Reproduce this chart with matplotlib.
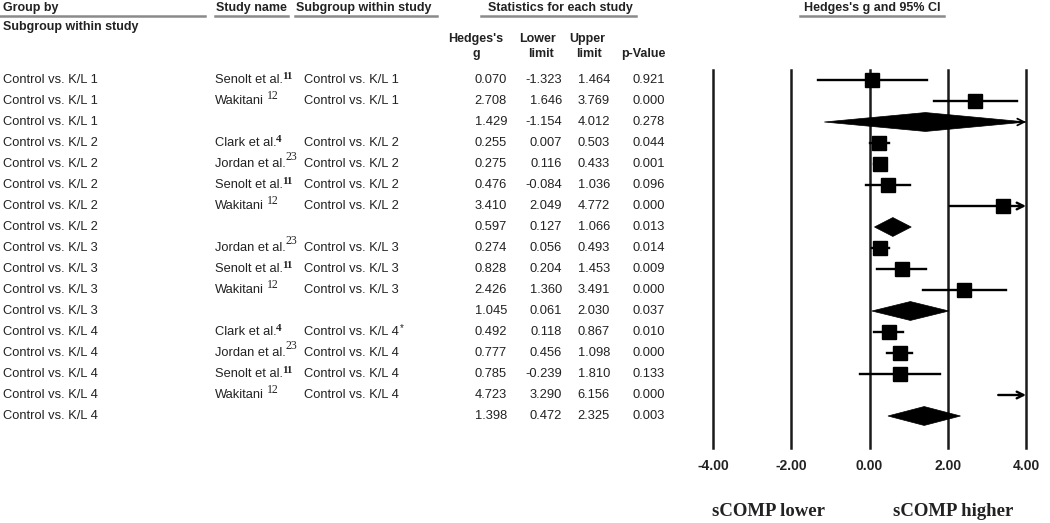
import matplotlib
matplotlib.use("Agg")
import matplotlib.pyplot as plt
import matplotlib.transforms as mtransforms
from matplotlib.patches import Polygon

W, H = 1050, 523

# ---- data ----
groups = (["Control vs. K/L 1"] * 3 + ["Control vs. K/L 2"] * 5 +
          ["Control vs. K/L 3"] * 4 + ["Control vs. K/L 4"] * 5)
studies = ["Senolt et al.", "Wakitani", "",
           "Clark et al.", "Jordan et al.", "Senolt et al.", "Wakitani", "",
           "Jordan et al.", "Senolt et al.", "Wakitani", "",
           "Clark et al.", "Jordan et al.", "Senolt et al.", "Wakitani", ""]
refs = ["11", "12", "", "4", "23", "11", "12", "", "23", "11", "12", "",
        "4", "23", "11", "12", ""]
subgroups = ["Control vs. K/L 1", "Control vs. K/L 1", "",
             "Control vs. K/L 2", "Control vs. K/L 2", "Control vs. K/L 2", "Control vs. K/L 2", "",
             "Control vs. K/L 3", "Control vs. K/L 3", "Control vs. K/L 3", "",
             "Control vs. K/L 4", "Control vs. K/L 4", "Control vs. K/L 4", "Control vs. K/L 4", ""]
sub_notes = ["", "", "", "", "", "", "", "", "", "", "", "", "*", "", "", "", ""]
hedges_g = [0.070, 2.708, 1.429, 0.255, 0.275, 0.476, 3.410, 0.597,
            0.274, 0.828, 2.426, 1.045, 0.492, 0.777, 0.785, 4.723, 1.398]
lower = [-1.323, 1.646, -1.154, 0.007, 0.116, -0.084, 2.049, 0.127,
         0.056, 0.204, 1.360, 0.061, 0.118, 0.456, -0.239, 3.290, 0.472]
upper = [1.464, 3.769, 4.012, 0.503, 0.433, 1.036, 4.772, 1.066,
         0.493, 1.453, 3.491, 2.030, 0.867, 1.098, 1.810, 6.156, 2.325]
p_values = [0.921, 0.000, 0.278, 0.044, 0.001, 0.096, 0.000, 0.013,
            0.014, 0.009, 0.000, 0.037, 0.010, 0.000, 0.133, 0.000, 0.003]
bold_refs = ["11", "4"]
xticks = [-4, -2, 0, 2, 4]

SANS = "Liberation Sans"
SERIF = "Liberation Serif"
TXT = "#222222"
GRAY = "#8a8a8a"

fig = plt.figure(figsize=(W / 100, H / 100), dpi=100)

def fx(x):
    return x / W

def fy(y):
    return 1 - y / H

# forest plot axes: x -4..4 at px 713..1026, rows at px 80 + 21*i
top_px, bot_px = 70, 448
ax = fig.add_axes([fx(713), fy(bot_px), fx(1026) - fx(713), (bot_px - top_px) / H])
ax.set_xlim(-4, 4)
ax.set_ylim((bot_px - 80) / 21, (top_px - 80) / 21)
for s in ax.spines.values():
    s.set_visible(False)
ax.set_yticks([])
ax.set_xticks(xticks)
ax.set_xticklabels([f"{t:.2f}" for t in xticks], fontsize=10, fontweight="bold",
                   family=SANS, color=TXT)
ax.tick_params(axis="x", length=0, pad=8)
for t in xticks:
    ax.axvline(t, color="#1a1a1a", lw=1.8, clip_on=False, zorder=1)

n = len(hedges_g)
for i in range(n):
    g, lo, hi = hedges_g[i], lower[i], upper[i]
    if studies[i] == "":
        h = 0.45
        poly = Polygon([(lo, i), (g, i - h), (hi, i), (g, i + h)], closed=True,
                       facecolor="black", edgecolor="black", lw=0.5, zorder=3)
        ax.add_patch(poly)
        if hi > 4:
            ax.annotate("", xy=(4, i), xytext=(3.7, i),
                        arrowprops=dict(arrowstyle="->", lw=1.3, color="black",
                                        mutation_scale=12, shrinkA=0, shrinkB=0),
                        annotation_clip=False)
        continue
    x0, x1 = max(lo, -4), min(hi, 4)
    if hi > 4:
        ax.annotate("", xy=(4, i), xytext=(x0, i),
                    arrowprops=dict(arrowstyle="->", lw=1.7, color="black",
                                    mutation_scale=12, shrinkA=0, shrinkB=0),
                    annotation_clip=False)
    else:
        ax.plot([x0, x1], [i, i], color="black", lw=1.7, zorder=2)
    if g <= 4:
        ax.plot([g], [i], marker="s", ms=9.8, color="black", zorder=4)

# table text, rows share the forest y scale
tr = mtransforms.blended_transform_factory(fig.transFigure, ax.transData)
fs = 9.3
for i in range(n):
    fig.text(fx(3), i, groups[i], transform=tr, fontsize=fs, family=SANS,
             color=TXT, va="center", ha="left")
    if studies[i]:
        name = fig.text(fx(215), i, studies[i], transform=tr, fontsize=fs,
                        family=SANS, color=TXT, va="center", ha="left")
        bold = refs[i] in bold_refs
        dx = 2.5 if refs[i] == "12" else -0.5
        dy = 1.5 if refs[i] == "23" else 0
        ax.annotate(refs[i], xy=(1, 0.45), xycoords=name,
                    xytext=(dx, dy), textcoords="offset points",
                    fontsize=8 if bold else 8.5, family=SERIF,
                    fontweight="bold" if bold else "normal",
                    color=TXT, va="bottom", ha="left", annotation_clip=False)
    if subgroups[i]:
        sub = fig.text(fx(304), i, subgroups[i], transform=tr, fontsize=fs,
                       family=SANS, color=TXT, va="center", ha="left")
        if sub_notes[i]:
            ax.annotate(sub_notes[i], xy=(1, 0.45), xycoords=sub,
                        xytext=(0.5, 0), textcoords="offset points",
                        fontsize=7, family=SANS, color=TXT,
                        va="bottom", ha="left", annotation_clip=False)
    for xr, v in zip([507, 562, 610, 665],
                     [hedges_g[i], lower[i], upper[i], p_values[i]]):
        fig.text(fx(xr), i, f"{v:.3f}", transform=tr, fontsize=fs,
                 family=SANS, color=TXT, va="center", ha="right")

# header
hfs = 9
def header(x, y, s, ha="left"):
    fig.text(fx(x), fy(y), s, fontsize=hfs, fontweight="bold", family=SANS,
             color=TXT, ha=ha, va="center")

def rule(x0, x1, y=16):
    fig.add_artist(plt.Line2D([fx(x0), fx(x1)], [fy(y), fy(y)],
                              color=GRAY, lw=1.8, transform=fig.transFigure))

header(3, 8, "Group by")
rule(0, 205)
header(3, 27, "Subgroup within study")
header(216, 8, "Study name")
rule(215, 288)
header(296, 8, "Subgroup within study")
rule(295, 437)
header(560, 8, "Statistics for each study", ha="center")
rule(481, 636)
header(872, 8, "Hedges's g and 95% CI", ha="center")
rule(800, 944)

header(476, 39, "Hedges's", ha="center")
header(476, 54, "g", ha="center")
header(538, 39, "Lower", ha="center")
header(541, 54, "limit", ha="center")
header(587, 39, "Upper", ha="center")
header(589, 54, "limit", ha="center")
header(643, 54, "p-Value", ha="center")

fig.text(fx(768), fy(512), "sCOMP lower", fontsize=13.5, fontweight="bold",
         family=SERIF, color=TXT, ha="center", va="center")
fig.text(fx(953), fy(512), "sCOMP higher", fontsize=13.5, fontweight="bold",
         family=SERIF, color=TXT, ha="center", va="center")

fig.savefig("out.png", dpi=100)
